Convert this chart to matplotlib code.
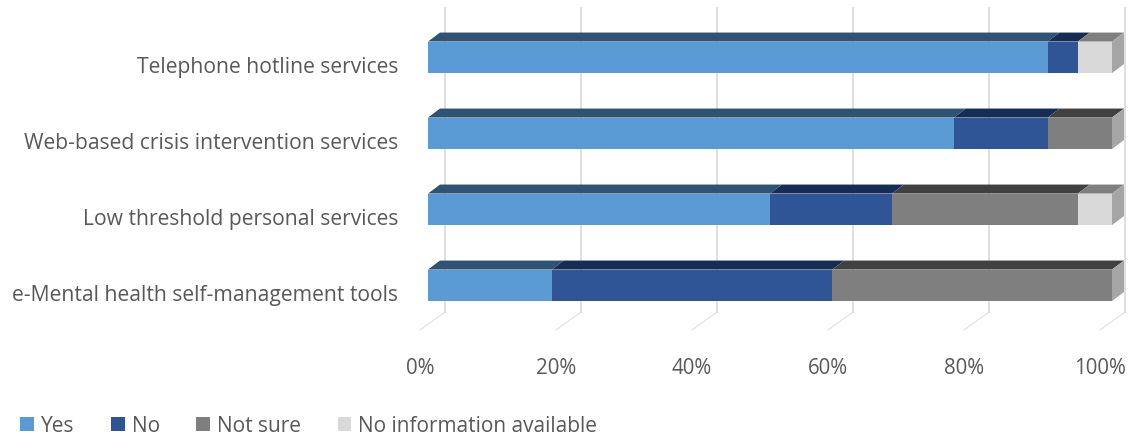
import matplotlib
matplotlib.use('Agg')
import matplotlib.pyplot as plt
from matplotlib.patches import Polygon
from matplotlib.transforms import ScaledTranslation

categorias = ['e-Mental health self-management tools', 'Low threshold personal services',
              'Web-based crisis intervention services', 'Telephone hotline services']
series = ['Yes', 'No', 'Not sure', 'No information available']

# percentuais
yes = [18.1, 50.0, 76.9, 90.6]
no = [41.0, 17.8, 13.7, 4.4]
not_sure = [40.9, 27.2, 9.4, 0.0]
no_info = [0.0, 5.0, 0.0, 5.0]
valores = [yes, no, not_sure, no_info]
ticks = [0, 20, 40, 60, 80, 100]

cores = ['#5b9bd5', '#2f5597', '#7f7f7f', '#d9d9d9']
cores_topo = ['#2f5373', '#152c55', '#404040', '#7f7f7f']
cores_lado = ['#2f5373', '#152c55', '#a6a6a6', '#a6a6a6']

W, H = 1132, 438
plt.rcParams['font.family'] = ['Open Sans', 'DejaVu Sans']
fig = plt.figure(figsize=(W / 100, H / 100), dpi=100)
ax = fig.add_axes([428 / W, 1 - 323.3 / H, 684 / W, 304 / H])
ax.set_xlim(0, 100)
ax.set_ylim(-0.5, 3.5)

px_x = 100 / 684
px_y = 4 / 304
altura = 31.5 * px_y
dx = 12 * px_x
dy = 9 * px_y


def y_px(p):
    return 3 + (57.3 - p) * px_y


# parede do fundo e chao
for t in ticks:
    xb = (17 + t * 6.8) * px_x
    xf = (-8 + t * 6.8) * px_x
    ax.plot([xb, xb], [y_px(8), y_px(312)], color='#e0e0e0', lw=1.4, clip_on=False, zorder=1)
    ax.plot([xb, xf], [y_px(312), y_px(330)], color='#e0e0e0', lw=0.8, clip_on=False, zorder=1)

posicoes = list(range(len(categorias)))
esquerda = [0.0] * len(categorias)
for s, vals in enumerate(valores):
    ax.barh(posicoes, vals, left=esquerda, height=altura, color=cores[s], zorder=3, label=series[s])
    for i, v in enumerate(vals):
        if v == 0:
            continue
        x0 = esquerda[i]
        x1 = x0 + v
        topo = i + altura / 2
        ax.add_patch(Polygon([(x0, topo), (x1, topo), (x1 + dx, topo + dy), (x0 + dx, topo + dy)],
                             color=cores_topo[s], lw=0, zorder=2.5, clip_on=False))
        # a ultima serie da barra leva a face lateral
        if s == len(valores) - 1 or all(valores[k][i] == 0 for k in range(s + 1, len(valores))):
            base = i - altura / 2
            ax.add_patch(Polygon([(x1, topo), (x1 + dx, topo + dy), (x1 + dx, base + dy), (x1, base)],
                                 color=cores_lado[s], lw=0, zorder=2.5, clip_on=False))
    esquerda = [e + v for e, v in zip(esquerda, vals)]

for lado in ax.spines.values():
    lado.set_visible(False)
ax.patch.set_visible(False)

ax.set_yticks(posicoes)
ax.set_yticklabels(categorias, fontsize=15.2, color='#595959')
ax.tick_params(axis='y', length=0, pad=21.6)
ax.set_xticks([t * 6.8 / 6.84 for t in ticks])
ax.set_xticklabels([f'{t}%' for t in ticks], fontsize=14.8, color='#595959')
ax.tick_params(axis='x', length=0, pad=25)
desloca = ScaledTranslation(-8 / 100, 0, fig.dpi_scale_trans)
for rotulo in ax.get_xticklabels():
    rotulo.set_transform(rotulo.get_transform() + desloca)
desce = ScaledTranslation(0, -8 / 100, fig.dpi_scale_trans)
for rotulo in ax.get_yticklabels():
    rotulo.set_transform(rotulo.get_transform() + desce)

fig.legend(*ax.get_legend_handles_labels(), loc='lower left', bbox_to_anchor=(20 / W, 1.5 / H), ncol=4,
           frameon=False, fontsize=15, labelcolor='#595959', handlelength=0.67, handleheight=0.67,
           handletextpad=0.33, columnspacing=1.75, borderpad=0, borderaxespad=0)

fig.savefig('out.png', dpi=100)
